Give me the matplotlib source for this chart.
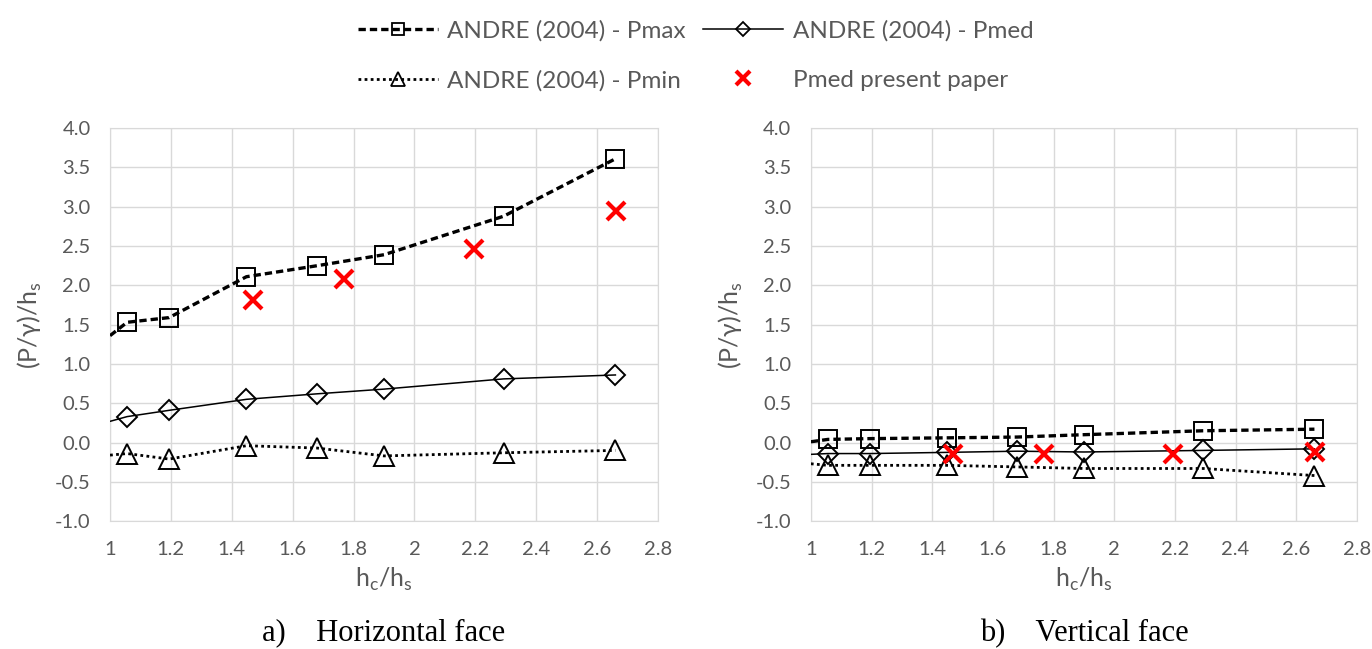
import matplotlib.pyplot as plt

# x = hc/hs (ANDRE 2004 points), lines start at x = 1
x_andre = [1.0, 1.056, 1.194, 1.448, 1.68, 1.9, 2.293, 2.66]
x_paper = [1.468, 1.767, 2.195, 2.662]

# a) horizontal face
h_pmax = [1.36, 1.53, 1.59, 2.11, 2.25, 2.39, 2.88, 3.61]
h_pmed = [0.27, 0.33, 0.41, 0.55, 0.62, 0.68, 0.81, 0.86]
h_pmin = [-0.16, -0.14, -0.21, -0.04, -0.07, -0.17, -0.13, -0.10]
h_paper = [1.82, 2.08, 2.46, 2.95]

# b) vertical face
v_pmax = [0.01, 0.04, 0.05, 0.06, 0.07, 0.10, 0.15, 0.17]
v_pmed = [-0.15, -0.14, -0.14, -0.125, -0.11, -0.12, -0.10, -0.08]
v_pmin = [-0.27, -0.29, -0.29, -0.29, -0.31, -0.33, -0.33, -0.42]
v_paper = [-0.14, -0.14, -0.15, -0.12]

xticks = [1, 1.2, 1.4, 1.6, 1.8, 2, 2.2, 2.4, 2.6, 2.8]
xticklabels = ['1', '1.2', '1.4', '1.6', '1.8', '2', '2.2', '2.4', '2.6', '2.8']
yticks = [-1.0, -0.5, 0.0, 0.5, 1.0, 1.5, 2.0, 2.5, 3.0, 3.5, 4.0]

plt.rcParams['font.family'] = ['Lato', 'DejaVu Sans']
grey = '#595959'
gridc = '#d9d9d9'

fig = plt.figure(figsize=(13.72, 6.49), dpi=100)
ax1 = fig.add_axes([0.0802, 0.197, 0.3994, 0.6055])
ax2 = fig.add_axes([0.591, 0.197, 0.398, 0.6055])


def draw(ax, pmax, pmed, pmin, paper, caption):
    ax.plot(x_andre, pmax, color='black', ls=(0, (2.2, 1.2)), lw=2.4, zorder=3)
    ax.plot(x_andre[1:], pmax[1:], ls='none', marker='s', ms=13.5, mfc='none',
            mec='black', mew=1.4, zorder=4)
    ax.plot(x_andre, pmed, color='black', ls='-', lw=1.1, zorder=3)
    ax.plot(x_andre[1:], pmed[1:], ls='none', marker='D', ms=10.5, mfc='none',
            mec='black', mew=1.4, zorder=4)
    ax.plot(x_andre, pmin, color='black', ls=(0, (1, 1.2)), lw=2.0, zorder=3)
    ax.plot(x_andre[1:], pmin[1:], ls='none', marker='^', ms=14, mfc='none',
            mec='black', mew=1.4, zorder=4)
    ax.plot(x_paper, paper, ls='none', marker='x', ms=13, mew=3,
            color='#ff0000', zorder=5)

    ax.set_xlim(1, 2.8)
    ax.set_ylim(-1, 4)
    ax.set_xticks(xticks)
    ax.set_xticklabels(xticklabels)
    ax.set_yticks(yticks)
    ax.set_yticklabels([f'{v:.1f}' for v in yticks])
    ax.grid(True, color=gridc, lw=1)
    ax.set_axisbelow(True)
    for s in ax.spines.values():
        s.set_color(gridc)
    ax.tick_params(length=0, colors=grey, labelsize=14.5)
    ax.tick_params(axis='y', pad=14)
    ax.tick_params(axis='x', pad=14)
    ax.set_ylabel('(P/γ)/h$_\\mathregular{s}$', color=grey, fontsize=18, labelpad=8)
    ax.set_xlabel('h$_\\mathregular{c}$/h$_\\mathregular{s}$', color=grey, fontsize=18,
                  labelpad=6)
    ax.text(0.5, -0.285, caption, transform=ax.transAxes, ha='center', va='center',
            fontsize=22, family='Liberation Serif', color='black')


draw(ax1, h_pmax, h_pmed, h_pmin, h_paper, 'a)    Horizontal face')
draw(ax2, v_pmax, v_pmed, v_pmin, v_paper, 'b)    Vertical face')

# legend
l1, = ax1.plot([], [], color='black', ls=(0, (2.2, 1.2)), lw=2.4, marker='s',
               ms=9, mfc='none', mec='black', mew=1.3)
l2, = ax1.plot([], [], color='black', ls='-', lw=1.1, marker='D', ms=7,
               mfc='none', mec='black', mew=1.3)
l3, = ax1.plot([], [], color='black', ls=(0, (1, 1.2)), lw=2.0, marker='^',
               ms=10, mfc='none', mec='black', mew=1.3)
l4, = ax1.plot([], [], ls='none', marker='x', ms=10, mew=3, color='#ff0000')
leg = fig.legend([l1, l3, l2, l4],
                 ['ANDRE (2004) - Pmax', 'ANDRE (2004) - Pmin',
                  'ANDRE (2004) - Pmed', 'Pmed present paper'],
                 ncol=2, loc='center', bbox_to_anchor=(0.507, 0.914),
                 frameon=False, fontsize=17.5, handlelength=3.3, handletextpad=0.4,
                 columnspacing=0.7, labelspacing=1.15)
for t in leg.get_texts():
    t.set_color(grey)

fig.savefig('out.png', dpi=100)
